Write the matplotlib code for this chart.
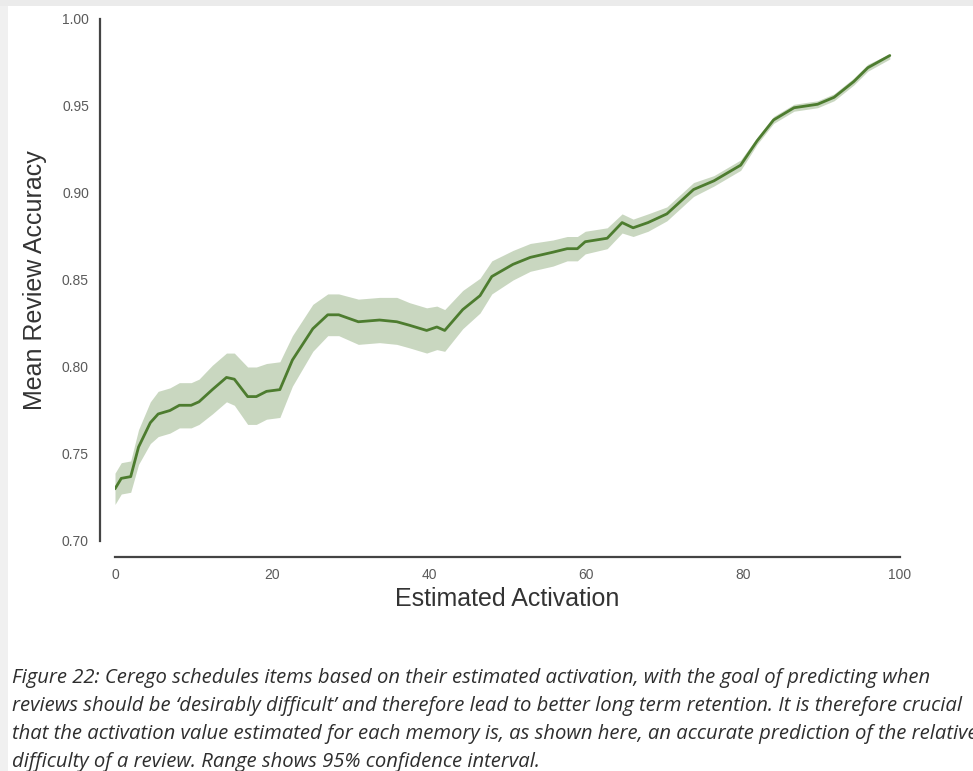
import matplotlib
matplotlib.use('Agg')
import matplotlib.pyplot as plt
from matplotlib.patches import Rectangle

# values
activation = [0, 0.8, 2.0, 3.0, 4.5, 5.5, 7.0, 8.2, 9.7, 10.7, 12.4, 14.2, 15.2,
              16.9, 18.0, 19.3, 21.0, 22.6, 25.2, 27.1, 28.5, 31.0, 33.7, 35.9,
              37.5, 39.7, 41.0, 42.0, 44.3, 46.5, 48.0, 50.7, 52.9, 55.8, 57.6,
              58.9, 59.9, 62.7, 64.6, 66.0, 67.9, 70.3, 73.7, 76.3, 79.7, 81.8,
              83.9, 86.5, 89.5, 91.6, 94.1, 95.9, 98.7]
accuracy = [0.730, 0.736, 0.737, 0.754, 0.768, 0.773, 0.775, 0.778, 0.778, 0.780,
            0.787, 0.794, 0.793, 0.783, 0.783, 0.786, 0.787, 0.804, 0.822, 0.830,
            0.830, 0.826, 0.827, 0.826, 0.824, 0.821, 0.823, 0.821, 0.833, 0.841,
            0.852, 0.859, 0.863, 0.866, 0.868, 0.868, 0.872, 0.874, 0.883, 0.880,
            0.883, 0.888, 0.902, 0.907, 0.916, 0.930, 0.942, 0.949, 0.951, 0.955,
            0.964, 0.972, 0.979]
ci_low = [0.721, 0.727, 0.728, 0.744, 0.756, 0.760, 0.762, 0.765, 0.765, 0.767,
          0.773, 0.780, 0.778, 0.767, 0.767, 0.770, 0.771, 0.789, 0.809, 0.818,
          0.818, 0.813, 0.814, 0.813, 0.811, 0.808, 0.810, 0.809, 0.822, 0.831,
          0.842, 0.850, 0.855, 0.858, 0.861, 0.861, 0.865, 0.868, 0.877, 0.875,
          0.878, 0.884, 0.898, 0.904, 0.913, 0.928, 0.940, 0.947, 0.949, 0.953,
          0.962, 0.970, 0.977]
ci_high = [0.739, 0.745, 0.746, 0.764, 0.780, 0.786, 0.788, 0.791, 0.791, 0.793,
           0.801, 0.808, 0.808, 0.800, 0.800, 0.802, 0.803, 0.818, 0.836, 0.842,
           0.842, 0.839, 0.840, 0.840, 0.837, 0.834, 0.835, 0.833, 0.844, 0.851,
           0.861, 0.867, 0.871, 0.873, 0.875, 0.875, 0.878, 0.880, 0.888, 0.885,
           0.888, 0.892, 0.906, 0.910, 0.919, 0.932, 0.944, 0.951, 0.953, 0.957,
           0.966, 0.974, 0.980]

x_ticks = [0, 20, 40, 60, 80, 100]
y_ticks = [0.70, 0.75, 0.80, 0.85, 0.90, 0.95, 1.00]

caption = [
    'Figure 22: Cerego schedules items based on their estimated activation, with the goal of predicting when',
    'reviews should be \u2018desirably difficult\u2019 and therefore lead to better long term retention. It is therefore crucial',
    'that the activation value estimated for each memory is, as shown here, an accurate prediction of the relative',
    'difficulty of a review. Range shows 95% confidence interval.',
]

line_color = '#4d7c2f'

plt.rcParams['font.family'] = ['Liberation Sans', 'DejaVu Sans']

fig = plt.figure(figsize=(9.73, 7.71), dpi=100)
fig.patch.set_facecolor('white')

# screenshot frame: grey strip along the top and left edge
fig.patches.append(Rectangle((0, 1 - 6 / 771), 1, 6 / 771, transform=fig.transFigure,
                             facecolor='#ebebeb', edgecolor='none', zorder=0))
fig.patches.append(Rectangle((0, 0), 8 / 973, 1 - 6 / 771, transform=fig.transFigure,
                             facecolor='#f0f0f0', edgecolor='none', zorder=0))

ax = fig.add_axes([115 / 973, 1 - 541 / 771, 785 / 973, 522 / 771])
ax.set_facecolor('none')

ax.fill_between(activation, ci_low, ci_high, color=line_color, alpha=0.3, linewidth=0)
ax.plot(activation, accuracy, color=line_color, linewidth=2.0, solid_capstyle='round')

ax.set_xlim(0, 100)
ax.set_ylim(0.70, 1.00)
ax.set_xticks(x_ticks)
ax.set_yticks(y_ticks)
ax.set_yticklabels(['%.2f' % v for v in y_ticks])

for side in ['top', 'right']:
    ax.spines[side].set_visible(False)
ax.spines['left'].set_position(('outward', 10.8))
ax.spines['bottom'].set_position(('outward', 11.5))
for side in ['left', 'bottom']:
    ax.spines[side].set_color('#444444')
    ax.spines[side].set_linewidth(1.6)

ax.tick_params(axis='both', length=0, labelsize=10, labelcolor='#5a5a5a')
ax.tick_params(axis='y', pad=8)
ax.tick_params(axis='x', pad=8)

ax.set_xlabel('Estimated Activation', fontsize=18, color='#333333')
ax.set_ylabel('Mean Review Accuracy', fontsize=18, color='#333333')
ax.xaxis.set_label_coords(0.5, -0.088)
ax.yaxis.set_label_coords(-0.0866, 0.5)

baselines = [683, 711, 739, 767]
for text, b in zip(caption, baselines):
    fig.text(12 / 973, 1 - b / 771, text, fontsize=14.6, style='italic',
             family=['Open Sans', 'DejaVu Sans'], color='#2e2e2e', va='baseline')

fig.savefig('out.png', dpi=100)
